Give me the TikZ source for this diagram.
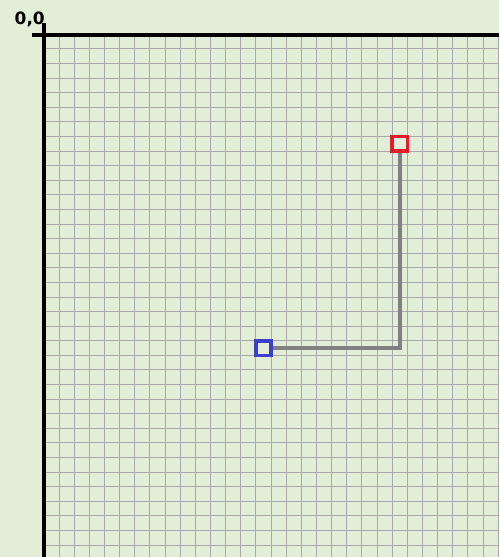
\documentclass[tikz,border=0pt]{standalone}
\usepackage{fontspec}
\newfontfamily\labelfont{DejaVu Sans}
\definecolor{bg}{RGB}{227,238,217}
\definecolor{gridc}{RGB}{168,168,172}
\definecolor{redsq}{RGB}{228,28,44}
\definecolor{bluesq}{RGB}{60,64,200}
\definecolor{linkc}{RGB}{128,128,128}
\tikzset{
  gridline/.style={draw=gridc,line width=1pt},
  axisline/.style={draw=black,line width=4.2pt},
  cellbox/.style={rectangle,minimum width=15.14pt,minimum height=14.59pt,inner sep=0pt,line width=3.6pt,fill=none},
  link/.style={draw=linkc,line width=4pt,line join=miter}
}
\begin{document}
\begin{tikzpicture}[x=1pt,y=-1pt]
\fill[bg] (0,0) rectangle (499,557);
\useasboundingbox (0,0) rectangle (499,557);
% grid
\foreach \i in {1,...,30} {
  \draw[gridline] ({44+\i*15.14},35) -- ({44+\i*15.14},557);
}
\foreach \j in {1,...,35} {
  \draw[gridline] (44,{34.4+\j*14.59}) -- (499,{34.4+\j*14.59});
}
% axes
\draw[axisline] (32,35) -- (499,35);
\draw[axisline] (44,23) -- (44,557);
% label
\node (origin) [text=black,font=\labelfont\bfseries\fontsize{17}{17}\selectfont,anchor=base east,inner sep=0pt] at (45,24) {0,0};
% squares
\node (red) [cellbox,draw=redsq] at ({44+23.5*15.14},{34.4+7.5*14.59}) {};
\node (blue) [cellbox,draw=bluesq] at ({44+14.5*15.14},{34.4+21.5*14.59}) {};
\draw[link] (red.south) |- (blue.east);
\end{tikzpicture}
\end{document}
